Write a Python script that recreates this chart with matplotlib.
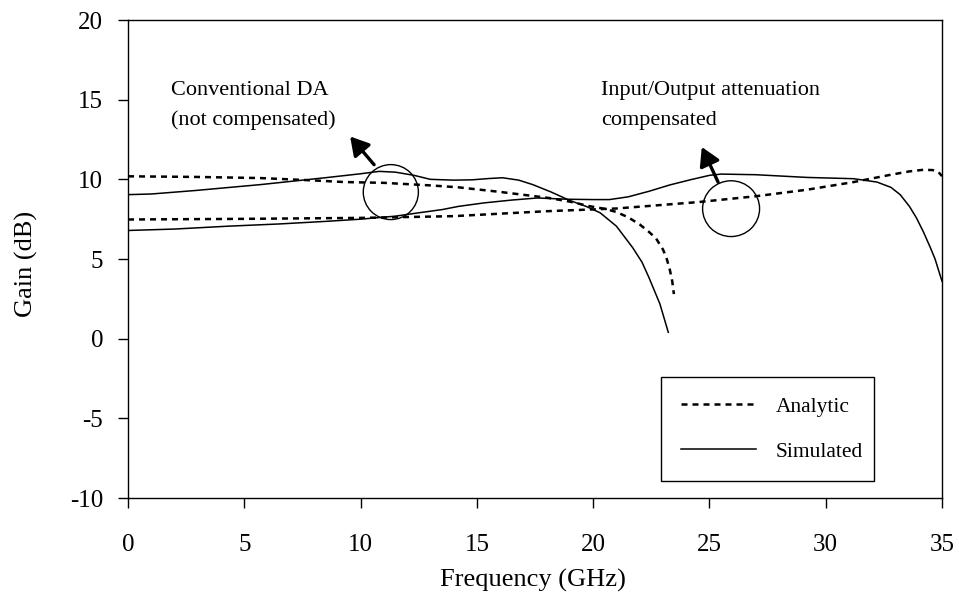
import matplotlib
matplotlib.use("Agg")
import matplotlib.pyplot as plt
from matplotlib.patches import Ellipse

plt.rcParams['font.family'] = ['Liberation Serif', 'DejaVu Serif']
plt.rcParams['axes.unicode_minus'] = False

# conventional DA (not compensated)
f_conv_ana = [0, 3, 5.7, 8, 9.3, 11, 13, 14.2, 16, 17, 18.1, 19, 19.86, 20.5, 21,
              21.5, 22, 22.4, 22.7, 23, 23.15, 23.3, 23.4, 23.47]
g_conv_ana = [10.19, 10.15, 10.08, 9.93, 9.83, 9.78, 9.62, 9.5, 9.21, 9.03, 8.83, 8.6,
              8.31, 8.15, 7.95, 7.62, 7.17, 6.7, 6.3, 5.6, 5.08, 4.3, 3.6, 2.8]
f_conv_sim = [0, 1, 2.9, 5.7, 8.6, 10, 10.8, 11.5, 12.3, 13, 14, 14.8, 15.5, 16.1,
              16.8, 17.4, 18.2, 19, 19.7, 20.3, 21, 21.7, 22.1, 22.4, 22.87, 23.23]
g_conv_sim = [9.04, 9.08, 9.3, 9.67, 10.12, 10.35, 10.5, 10.45, 10.25, 10.0, 9.95,
              9.97, 10.05, 10.1, 9.95, 9.67, 9.2, 8.67, 8.3, 7.9, 7.06, 5.71, 4.8,
              3.83, 2.18, 0.4]

# input/output attenuation compensated
f_comp_ana = [0, 5, 10, 14, 18, 21, 24.5, 27, 29.2, 31.2, 32.8, 33.6, 34.2, 34.6,
              34.85, 35]
g_comp_ana = [7.48, 7.52, 7.58, 7.69, 8.0, 8.17, 8.57, 8.94, 9.35, 9.83, 10.29, 10.5,
              10.6, 10.58, 10.45, 10.2]
f_comp_sim = [0, 2, 4.3, 6.5, 8.6, 10, 11.5, 12.5, 13.5, 14.2, 15.3, 16.5, 17.6, 18.9,
              20, 20.7, 21.5, 22.4, 23.3, 24.2, 25, 25.5, 27, 29.2, 31.2, 32.2, 32.8,
              33.2, 33.6, 33.9, 34.2, 34.5, 34.7, 35]
g_comp_sim = [6.79, 6.88, 7.06, 7.2, 7.37, 7.5, 7.69, 7.9, 8.1, 8.3, 8.52, 8.7, 8.83,
              8.75, 8.73, 8.73, 8.9, 9.25, 9.65, 9.98, 10.25, 10.33, 10.29, 10.12,
              10.04, 9.83, 9.5, 9.04, 8.3, 7.58, 6.7, 5.71, 5.0, 3.6]

x_ticks = [0, 5, 10, 15, 20, 25, 30, 35]
y_ticks = [-10, -5, 0, 5, 10, 15, 20]

fig = plt.figure(figsize=(9.59, 5.99), dpi=100)
ax = fig.add_axes([0.1335, 0.1686, 0.8488, 0.798])

dash = dict(color='black', lw=1.8, dashes=(2.4, 2.0))
solid = dict(color='black', lw=1.1)

l_ana, = ax.plot(f_conv_ana, g_conv_ana, **dash)
l_sim, = ax.plot(f_conv_sim, g_conv_sim, **solid)
ax.plot(f_comp_ana, g_comp_ana, **dash)
ax.plot(f_comp_sim, g_comp_sim, **solid)

# circles + arrows
ax.add_patch(Ellipse((11.3, 9.2), 2.37, 3.45, fill=False, color='black', lw=1.0))
ax.add_patch(Ellipse((25.93, 8.16), 2.45, 3.5, fill=False, color='black', lw=1.0))
arrow = dict(arrowstyle='-|>,head_length=0.55,head_width=0.32', color='black', lw=2.4,
             mutation_scale=20, shrinkA=0, shrinkB=0)
ax.annotate('', xy=(9.55, 12.69), xytext=(10.58, 10.92), arrowprops=arrow)
ax.annotate('', xy=(24.67, 12.03), xytext=(25.37, 9.83), arrowprops=arrow)

ax.text(1.85, 15.6, 'Conventional DA', fontsize=16, va='center')
ax.text(1.85, 13.7, '(not compensated)', fontsize=16, va='center')
ax.text(20.35, 15.6, 'Input/Output attenuation', fontsize=16, va='center')
ax.text(20.35, 13.7, 'compensated', fontsize=16, va='center')

ax.set_xlim(0, 35)
ax.set_ylim(-10, 20)
ax.set_xticks(x_ticks)
ax.set_yticks(y_ticks)
ax.tick_params(axis='both', direction='out', length=7, width=1, labelsize=18)
ax.tick_params(axis='x', pad=19)
ax.tick_params(axis='y', pad=11)
for s in ax.spines.values():
    s.set_linewidth(1.0)

ax.set_xlabel('Frequency (GHz)', fontsize=19, va='center')
ax.set_ylabel('Gain (dB)', fontsize=19, va='center')
ax.xaxis.set_label_coords(0.4975, -0.172)
ax.yaxis.set_label_coords(-0.1245, 0.49)

leg = ax.legend([l_ana, l_sim], ['Analytic', 'Simulated'], loc='lower left',
                bbox_to_anchor=(0.655, 0.0356, 0.2615, 0.2215), mode='expand',
                borderaxespad=0, fancybox=False, edgecolor='black', framealpha=1,
                fontsize=15.5, handlelength=3.5, handletextpad=0.9, labelspacing=1.15,
                borderpad=0.9)
leg.get_frame().set_linewidth(1.0)

fig.savefig('out.png', dpi=100)
